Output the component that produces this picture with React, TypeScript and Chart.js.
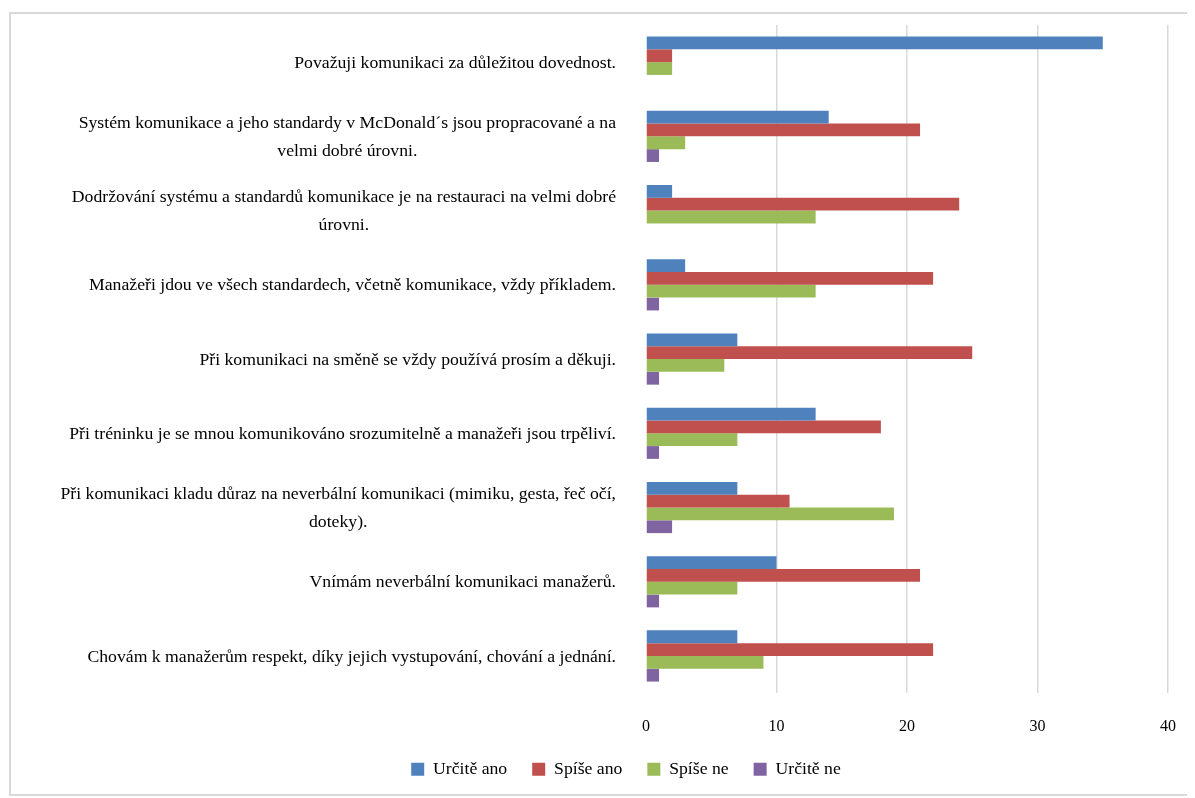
import React, { useEffect, useRef } from "react";
import { Chart, registerables } from "chart.js";

Chart.register(...registerables);

const categories: string[][] = [
  ["Považuji komunikaci za důležitou dovednost."],
  ["Systém komunikace a jeho standardy v McDonald´s jsou propracované a na", "velmi dobré úrovni."],
  ["Dodržování systému a standardů komunikace je na restauraci na velmi dobré", "úrovni."],
  ["Manažeři jdou ve všech standardech, včetně komunikace, vždy příkladem."],
  ["Při komunikaci na směně se vždy používá prosím a děkuji."],
  ["Při tréninku je se mnou komunikováno srozumitelně a manažeři jsou trpěliví."],
  ["Při komunikaci kladu důraz na neverbální komunikaci (mimiku, gesta, řeč očí,", "doteky)."],
  ["Vnímám neverbální komunikaci manažerů."],
  ["Chovám k manažerům respekt, díky jejich vystupování, chování a jednání."],
];

const seriesNames = ["Určitě ano", "Spíše ano", "Spíše ne", "Určitě ne"];
const urciteAno = [35, 14, 2, 3, 7, 13, 7, 10, 7];
const spiseAno = [2, 21, 24, 22, 25, 18, 11, 21, 22];
const spiseNe = [2, 3, 13, 13, 6, 7, 19, 7, 9];
const urciteNe = [0, 1, 0, 1, 1, 1, 2, 1, 1];
const seriesColors = ["#4F81BD", "#C0504D", "#9BBB59", "#8064A2"];

const xMin = 0;
const xMax = 40;
const xStep = 10;

const FONT = '"Liberation Serif", "Times New Roman", serif';
const LABEL_SIZE = 17.7;

const categoryLabelPlugin = {
  id: "categoryLabels",
  afterDraw(chart: any) {
    const ctx = chart.ctx;
    const y = chart.scales.y;
    const right = chart.chartArea.left - 30;
    ctx.save();
    ctx.font = `${LABEL_SIZE}px ${FONT}`;
    ctx.fillStyle = "#000";
    ctx.textBaseline = "middle";
    ctx.textAlign = "center";
    const lh = 28;
    categories.forEach((lines, i) => {
      const cy = y.getPixelForValue(i) + 1;
      const maxW = Math.max(...lines.map((l) => ctx.measureText(l).width));
      const cx = right - maxW / 2;
      lines.forEach((l, j) => {
        ctx.fillText(l, cx, cy + (j - (lines.length - 1) / 2) * lh);
      });
    });
    ctx.restore();
  },
};

export default function App() {
  const ref = useRef<HTMLCanvasElement>(null);
  useEffect(() => {
    if (!ref.current) return;
    const values = [urciteAno, spiseAno, spiseNe, urciteNe];
    const chart = new Chart(ref.current, {
      type: "bar",
      data: {
        labels: categories.map((l) => l.join(" ")),
        datasets: values.map((v, i) => ({
          label: seriesNames[i],
          data: v,
          backgroundColor: seriesColors[i],
          borderWidth: 0,
          categoryPercentage: 0.69,
          barPercentage: 1.0,
        })),
      },
      options: {
        indexAxis: "y",
        animation: false,
        responsive: false,
        devicePixelRatio: 1,
        layout: { padding: { left: 76, right: 27, top: 17, bottom: 10 } },
        scales: {
          x: {
            min: xMin,
            max: xMax,
            ticks: { stepSize: xStep, color: "#000", font: { family: FONT, size: 16 }, padding: 24 },
            grid: {
              color: (c: any) => (c.tick && c.tick.value === 0 ? "rgba(0,0,0,0)" : "#d9d9d9"),
              lineWidth: 1.5,
              drawTicks: false,
            },
            border: { display: false },
            afterFit: (s: any) => {
              s.height = s.height - 25;
              s.paddingRight = 0;
              s.paddingLeft = 0;
            },
          },
          y: {
            ticks: { display: false },
            grid: { display: false },
            border: { display: false },
            afterFit: (s: any) => {
              s.width = 562;
            },
          },
        },
        plugins: {
          legend: {
            position: "bottom",
            labels: {
              boxWidth: 13,
              boxHeight: 13,
              padding: 25,
              color: "#000",
              font: { family: FONT, size: LABEL_SIZE },
            },
          },
          tooltip: { enabled: false },
        },
      },
      plugins: [categoryLabelPlugin],
    });
    return () => chart.destroy();
  }, []);
  return (
    <div style={{ position: "relative", width: 1187, height: 790, overflow: "hidden" }}>
      <div
        style={{
          position: "absolute",
          left: 1,
          top: 4,
          width: 1300,
          height: 784,
          border: "2px solid #d9d9d9",
          boxSizing: "border-box",
        }}
      />
      <canvas ref={ref} width={1187} height={790} style={{ position: "absolute", left: 0, top: 0 }} />
    </div>
  );
}
